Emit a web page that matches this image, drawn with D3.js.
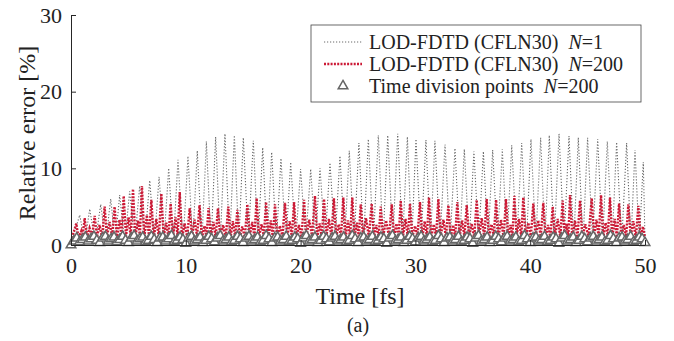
<!DOCTYPE html>
<html>
<head>
<meta charset="utf-8">
<script src="https://cdn.jsdelivr.net/npm/d3@7"></script>
<style>
  body { margin: 0; background: #fff; }
  text { font-family: "Liberation Serif", "Times New Roman", serif; fill: #222; }
  .axis path, .axis line { stroke: #262626; }
</style>
</head>
<body>
<div id="chart_wrapper"></div>
<script>
// N=1 run: peaks and dips
var n1Time = [0, 0.76, 1.2, 1.63, 2.1, 2.59, 3.02, 3.46, 3.85, 4.24, 4.68, 5.11, 5.55, 5.98, 6.42, 6.86, 7.27, 7.67, 8.09, 8.51, 8.92, 9.32, 9.76, 10.19, 10.6, 11.0, 11.4, 11.79, 12.2, 12.6, 13.0, 13.41, 13.82, 14.23, 14.62, 15.01, 15.45, 15.88, 16.29, 16.7, 17.09, 17.48, 17.89, 18.29, 18.72, 19.14, 19.57, 20.0, 20.44, 20.88, 21.29, 21.69, 22.13, 22.56, 23.0, 23.43, 23.84, 24.24, 24.66, 25.08, 25.49, 25.9, 26.34, 26.77, 27.18, 27.59, 28.03, 28.46, 28.88, 29.3, 29.68, 30.05, 30.49, 30.92, 31.31, 31.7, 32.14, 32.58, 33.02, 33.45, 33.86, 34.26, 34.68, 35.1, 35.51, 35.92, 36.33, 36.73, 37.15, 37.57, 37.98, 38.39, 38.83, 39.26, 39.67, 40.07, 40.49, 40.91, 41.29, 41.66, 42.09, 42.51, 42.95, 43.38, 43.79, 44.19, 44.6, 45.0, 45.44, 45.88, 46.3, 46.72, 47.13, 47.53, 47.97, 48.4, 48.77, 49.13, 49.5, 49.85, 50];
var n1Err = [0.2, 3.9,0.3, 4.7,0.3, 5.3,0.3, 6.0,0.3, 6.5,0.3, 7.0,0.4, 7.7,0.3, 8.4,0.3, 8.9,0.4, 10.0,0.3, 11.1,0.3, 11.6,0.4, 12.3,0.3, 13.5,0.3, 14.1,0.4, 14.5,0.3, 14.3,0.3, 14.0,0.4, 13.6,0.3, 12.7,0.3, 12.1,0.4, 11.3,0.3, 10.8,0.3, 9.9,0.4, 9.9,0.3, 10.0,0.3, 10.7,0.4, 11.6,0.3, 12.3,0.3, 13.3,0.4, 13.8,0.3, 14.3,0.3, 14.3,0.4, 14.5,0.3, 14.1,0.3, 13.8,0.4, 13.7,0.3, 13.6,0.3, 13.1,0.4, 12.6,0.3, 12.5,0.3, 12.2,0.4, 12.2,0.3, 12.4,0.3, 12.5,0.4, 13.0,0.3, 13.3,0.3, 13.8,0.4, 14.0,0.3, 14.3,0.3, 14.5,0.4, 14.2,0.3, 14.0,0.3, 14.0,0.4, 13.8,0.3, 13.5,0.3, 13.4,0.4, 13.3,0.3, 12.4,0.3, 10.8, 0.4];

// N=200 run
var n200Time = [0, 0.46,0.66,0.89,1.0, 1.19,1.4,1.62,1.84, 2.06,2.26,2.49,2.71, 2.93,3.13,3.36,3.58, 3.8,4.0,4.23,4.41, 4.59,4.79,5.02,5.2, 5.4,5.6,5.83,6.0, 6.18,6.38,6.61,6.8, 7.0,7.2,7.43,7.65, 7.87,8.07,8.3,8.49, 8.68,8.88,9.11,9.29, 9.47,9.67,9.9,10.12, 10.34,10.54,10.77,10.98, 11.2,11.4,11.63,11.8, 11.98,12.18,12.41,12.6, 12.8,13.0,13.25,13.48, 13.7,13.9,14.1,14.3, 14.49,14.69,14.92,15.14, 15.36,15.56,15.79,15.98, 16.17,16.37,16.6,16.8, 16.99,17.19,17.4,17.58, 17.77,17.97,18.2,18.42, 18.64,18.84,19.05,19.24, 19.43,19.63,19.86,20.08, 20.3,20.5,20.75,21.0, 21.25,21.45,21.66,21.85, 22.04,22.24,22.47,22.68, 22.9,23.1,23.32,23.52, 23.72,23.92,24.12,24.31, 24.5,24.7,24.9,25.07, 25.24,25.44,25.7,25.95, 26.19,26.39,26.6,26.8, 26.98,27.18,27.44,27.7, 27.94,28.14,28.35,28.54, 28.72,28.92,29.14,29.34, 29.53,29.73,29.97,30.18, 30.4,30.6,30.81,31.0, 31.18,31.38,31.6,31.8, 32.0,32.2,32.44,32.66, 32.87,33.07,33.28,33.46, 33.65,33.85,34.07,34.27, 34.47,34.67,34.9,35.12, 35.34,35.54,35.78,36.0, 36.21,36.41,36.63,36.83, 37.03,37.23,37.46,37.68, 37.89,38.09,38.28,38.45, 38.62,38.82,39.03,39.22, 39.4,39.6,39.84,40.05, 40.27,40.47,40.7,40.92, 41.14,41.34,41.56,41.76, 41.96,42.16,42.4,42.62, 42.83,43.0,43.16,43.32, 43.47,43.67,43.9,44.12, 44.34,44.54,44.8,45.08, 45.36,45.56,45.77,45.97, 46.17,46.37,46.57,46.76, 46.95,47.15,47.36,47.55, 47.74,47.94,48.15,48.35, 48.55,48.75,48.98,49.2, 49.42,49.62,49.82,50];
var n200Err = [0.5, 2.8,0.9,1.8,1.0, 3.5,0.9,2.2,1.1, 3.8,1.0,2.6,0.9, 5.0,1.0,3.0,1.1, 5.0,0.9,3.3,1.0, 6.4,1.1,3.6,1.0, 7.3,1.0,3.2,1.2, 7.7,1.0,3.9,1.1, 5.9,0.9,3.4,1.0, 6.7,1.1,2.9,1.0, 5.4,1.0,3.6,1.1, 6.9,0.9,2.8,1.0, 4.8,1.0,3.3,1.1, 5.2,0.9,2.5,1.0, 4.8,1.1,3.0,1.0, 4.8,1.0,2.6,0.9, 5.0,1.0,3.1,1.1, 4.6,0.9,2.4,1.0, 5.3,1.1,3.0,1.0, 6.1,1.0,2.7,1.1, 5.6,0.9,3.2,1.0, 5.3,1.0,2.5,1.1, 5.5,1.1,3.1,1.0, 5.6,0.9,2.6,1.0, 5.9,1.0,3.3,1.1, 6.4,1.0,2.8,0.9, 6.0,1.1,3.4,1.0, 6.1,1.0,2.7,1.1, 6.2,0.9,3.2,1.0, 6.2,1.0,2.9,1.1, 5.3,1.1,3.5,1.0, 5.4,0.9,2.6,1.0, 5.0,1.0,3.2,1.1, 5.3,1.0,2.8,0.9, 5.8,1.1,3.4,1.0, 5.4,1.0,2.5,1.1, 5.6,0.9,3.1,1.0, 6.2,1.0,2.7,1.1, 6.0,1.1,3.3,1.0, 5.2,0.9,2.6,1.0, 5.6,1.0,3.2,1.1, 5.2,1.0,2.8,0.9, 5.9,1.1,3.5,1.0, 6.0,1.0,2.7,1.1, 5.9,0.9,3.3,1.0, 6.0,1.0,2.6,1.1, 6.4,1.1,3.4,1.0, 6.2,0.9,2.9,1.0, 5.4,1.0,3.2,1.1, 5.5,1.0,2.6,0.9, 5.0,1.1,3.4,1.0, 5.8,1.0,2.8,1.1, 6.5,0.9,3.2,1.0, 5.8,1.0,2.7,1.1, 6.1,1.1,3.3,1.0, 6.5,1.0,2.9,1.1, 6.2,0.9,3.4,1.0, 5.4,1.0,2.6,1.1, 5.3,1.0,3.1,0.9, 5.1,0.9,2.4,1.0];

// error at the 200 time division points (0 .. 50 fs)
var divErr = [0.0,0.5,0.9,0.4,0.7,1.0,0.5,0.8,1.1,0.6,
  0.3,0.9,1.1,0.5,0.8,1.0,0.4,0.7,1.1,0.6,
  0.3,0.9,1.2,0.5,0.8,1.0,0.4,0.6,1.1,0.7,
  0.3,0.9,1.0,0.5,0.8,1.2,0.4,0.6,1.0,0.7,
  0.2,0.9,1.1,0.5,0.7,1.0,0.3,0.6,1.1,0.8,
  0.4,0.9,1.2,0.5,0.7,1.0,0.4,0.6,1.1,0.8,
  0.3,0.9,1.1,0.5,0.7,1.0,0.4,0.6,1.2,0.8,
  0.3,0.9,1.0,0.5,0.7,1.1,0.4,0.6,1.0,0.8,
  0.2,0.9,1.2,0.5,0.7,1.0,0.3,0.6,1.1,0.8,
  0.4,0.9,1.1,0.5,0.7,1.0,0.4,0.6,1.2,0.8,
  0.3,0.9,1.0,0.5,0.7,1.1,0.4,0.6,1.0,0.8,
  0.2,0.9,1.2,0.5,0.7,1.0,0.3,0.6,1.1,0.8,
  0.4,0.9,1.1,0.5,0.7,1.0,0.4,0.6,1.2,0.8,
  0.3,0.9,1.0,0.5,0.7,1.1,0.4,0.6,1.0,0.8,
  0.2,0.9,1.2,0.5,0.7,1.0,0.3,0.6,1.1,0.8,
  0.4,0.9,1.1,0.5,0.7,1.0,0.4,0.6,1.2,0.8,
  0.3,0.9,1.0,0.5,0.7,1.1,0.4,0.6,1.0,0.8,
  0.2,0.9,1.2,0.5,0.7,1.0,0.3,0.6,1.1,0.8,
  0.4,0.9,1.1,0.5,0.7,1.0,0.4,0.6,1.2,0.8,
  0.3,0.9,1.0,0.5,0.7,1.1,0.4,0.6,1.0,0.8,
  0.3];

var xTicks = [0, 10, 20, 30, 40, 50];
var yTicks = [0, 10, 20, 30];
var legendLabels = ["LOD-FDTD (CFLN30)  ", "LOD-FDTD (CFLN30)  ", "Time division points  "];
var legendN = ["=1", "=200", "=200"];

var width = 674, height = 341,
    margin = {left: 71, right: 29, top: 15, bottom: 96};
var serif = "'Liberation Serif', 'Times New Roman', serif";

var svg = d3.select("#chart_wrapper").append("svg").attr("width", width).attr("height", height);
var g = svg.append("g").attr("transform", "translate(" + margin.left + "," + margin.top + ")");
var w = width - margin.left - margin.right,
    h = height - margin.top - margin.bottom;

var x = d3.scaleLinear().domain([0, 50]).range([0, w]);
var y = d3.scaleLinear().domain([0, 30]).range([h, 0]);

function zip(ts, vs) {
    var n = Math.min(ts.length, vs.length), out = [];
    for (var i = 0; i < n; i++) out.push({t: ts[i], v: vs[i]});
    return out;
}
var line = d3.line().x(function(d) { return x(d.t); }).y(function(d) { return y(d.v); });

var grayCol = "#6a6a6a", redCol = "#cc1a36", triCol = "#666666";

g.append("path").attr("d", line(zip(n1Time, n1Err)))
    .attr("fill", "none").attr("stroke", grayCol).attr("stroke-width", 1.1)
    .attr("stroke-dasharray", "1.2,1.8");

g.append("path").attr("d", line(zip(n200Time, n200Err)))
    .attr("fill", "none").attr("stroke", redCol).attr("stroke-width", 2.4)
    .attr("stroke-dasharray", "2,1.3");

var divTime = divErr.map(function(d, i) { return i * 50 / (divErr.length - 1); });
var tri = d3.symbol().type(d3.symbolTriangle).size(40);
g.selectAll(".tri").data(zip(divTime, divErr)).enter().append("path")
    .attr("class", "tri").attr("d", tri)
    .attr("transform", function(d) { return "translate(" + x(d.t) + "," + y(d.v) + ")"; })
    .attr("fill", "#fff").attr("stroke", triCol).attr("stroke-width", 1.5);

// axes: ticks point inward
g.append("g").attr("class", "axis")
    .attr("transform", "translate(0," + h + ")")
    .call(d3.axisBottom(x).tickValues(xTicks).tickSize(-5).tickPadding(12).tickSizeOuter(0))
    .attr("font-family", serif).attr("font-size", 22);

g.append("g").attr("class", "axis")
    .call(d3.axisLeft(y).tickValues(yTicks).tickSize(-5).tickPadding(9).tickSizeOuter(0))
    .attr("font-family", serif).attr("font-size", 22);

svg.selectAll(".axis text").style("font-family", serif).attr("fill", "#222");

svg.append("text").attr("x", margin.left + w / 2 + 2).attr("y", 304)
    .attr("text-anchor", "middle").attr("font-size", 24).text("Time [fs]");
svg.append("text").attr("transform", "translate(35," + (margin.top + h / 2 + 3) + ") rotate(-90)")
    .attr("text-anchor", "middle").attr("font-size", 24).text("Relative error [%]");
svg.append("text").attr("x", 358).attr("y", 332)
    .attr("text-anchor", "middle").attr("font-size", 20).text("(a)");

// legend
var lg = svg.append("g").attr("transform", "translate(311,25)");
lg.append("rect").attr("width", 330).attr("height", 77)
    .attr("fill", "#fff").attr("stroke", "#444").attr("stroke-width", 0.8);
var rows = [17, 39, 61];
lg.append("line").attr("x1", 13).attr("x2", 51).attr("y1", rows[0]).attr("y2", rows[0])
    .attr("stroke", grayCol).attr("stroke-width", 1.1).attr("stroke-dasharray", "1.2,1.8");
lg.append("line").attr("x1", 13).attr("x2", 51).attr("y1", rows[1]).attr("y2", rows[1])
    .attr("stroke", redCol).attr("stroke-width", 2.4).attr("stroke-dasharray", "2,1.3");
lg.append("path").attr("d", tri).attr("transform", "translate(32," + rows[2] + ")")
    .attr("fill", "#fff").attr("stroke", triCol).attr("stroke-width", 1.5);
legendLabels.forEach(function(l, i) {
    var t = lg.append("text").attr("x", 58).attr("y", rows[i] + 7).attr("font-size", 20)
        .style("white-space", "pre");
    t.append("tspan").text(l);
    t.append("tspan").attr("font-style", "italic").text("N");
    t.append("tspan").text(legendN[i]);
});
</script>
</body>
</html>
